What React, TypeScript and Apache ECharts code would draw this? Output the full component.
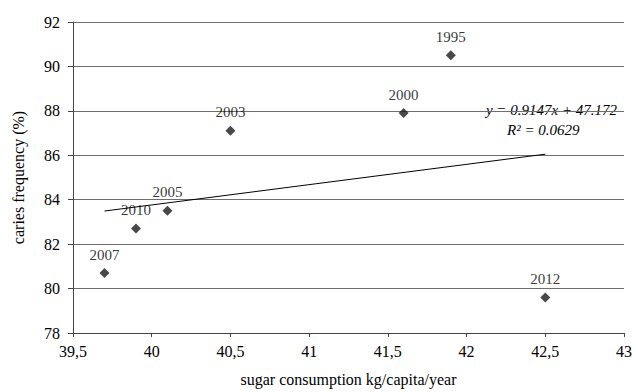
import React, { useEffect, useRef } from "react";
import * as echarts from "echarts";

const years = ["1995", "2000", "2003", "2005", "2010", "2007", "2012"];
const sugar = [41.9, 41.6, 40.5, 40.1, 39.9, 39.7, 42.5];
const caries = [90.5, 87.9, 87.1, 83.5, 82.7, 80.7, 79.6];
const trendX = [39.7, 42.5];
const trendY = [83.49, 86.05];
const equationText = "y = 0.9147x + 47.172";
const r2Text = "R² = 0.0629";

const FONT = "'Liberation Serif', 'Times New Roman', serif";
const INK = "#000";

export default function App() {
  const ref = useRef<HTMLDivElement>(null);
  useEffect(() => {
    if (!ref.current) return;
    const chart = echarts.init(ref.current, null, { renderer: "svg" });
    const points = sugar.map((x, i) => ({ value: [x, caries[i]], name: years[i] }));
    chart.setOption({
      animation: false,
      backgroundColor: "#ffffff",
      textStyle: { fontFamily: FONT },
      grid: { left: 73, right: 8, top: 22, bottom: 57 },
      xAxis: {
        type: "value",
        min: 39.5,
        max: 43,
        interval: 0.5,
        name: "sugar consumption kg/capita/year",
        nameLocation: "middle",
        nameGap: 38,
        nameTextStyle: { fontFamily: FONT, fontSize: 16, color: INK },
        axisLine: { show: true, onZero: false, lineStyle: { color: "#444", width: 1 } },
        axisTick: { show: true, length: 4, lineStyle: { color: "#444" } },
        axisLabel: {
          fontFamily: FONT,
          fontSize: 16,
          color: INK,
          margin: 10,
          formatter: (v: number) => String(v).replace(".", ","),
        },
        splitLine: { show: false },
      },
      yAxis: {
        type: "value",
        min: 78,
        max: 92,
        interval: 2,
        name: "caries frequency (%)",
        nameLocation: "middle",
        nameGap: 47,
        nameRotate: 90,
        nameTextStyle: { fontFamily: FONT, fontSize: 16, color: INK },
        axisLine: { show: true, lineStyle: { color: "#444", width: 1 } },
        axisTick: { show: true, length: 5, lineStyle: { color: "#444" } },
        axisLabel: { fontFamily: FONT, fontSize: 16, color: INK, margin: 13 },
        splitLine: { show: true, lineStyle: { color: "#6e6e6e", width: 1 } },
      },
      series: [
        {
          type: "line",
          data: trendX.map((x, i) => [x, trendY[i]]),
          showSymbol: false,
          symbol: "none",
          lineStyle: { color: "#000", width: 1 },
          z: 3,
        },
        {
          type: "scatter",
          data: points,
          symbol: "diamond",
          symbolSize: 10,
          itemStyle: { color: "#1a1a1a" },
          label: {
            show: true,
            position: "top",
            distance: 6,
            formatter: (p: any) => p.name,
            fontFamily: FONT,
            fontSize: 15,
            color: INK,
          },
          z: 4,
        },
      ],
      graphic: [
        {
          type: "text",
          right: 18,
          top: 102,
          style: {
            text: equationText,
            fontFamily: FONT,
            fontStyle: "italic",
            fontSize: 15,
            fill: INK,
          },
        },
        {
          type: "text",
          left: 507,
          top: 122,
          style: {
            text: r2Text,
            fontFamily: FONT,
            fontStyle: "italic",
            fontSize: 15,
            fill: INK,
          },
        },
      ],
    });
    return () => chart.dispose();
  }, []);
  return (
    <div
      ref={ref}
      style={{ position: "fixed", left: 0, top: 0, width: 635, height: 392 }}
    />
  );
}
